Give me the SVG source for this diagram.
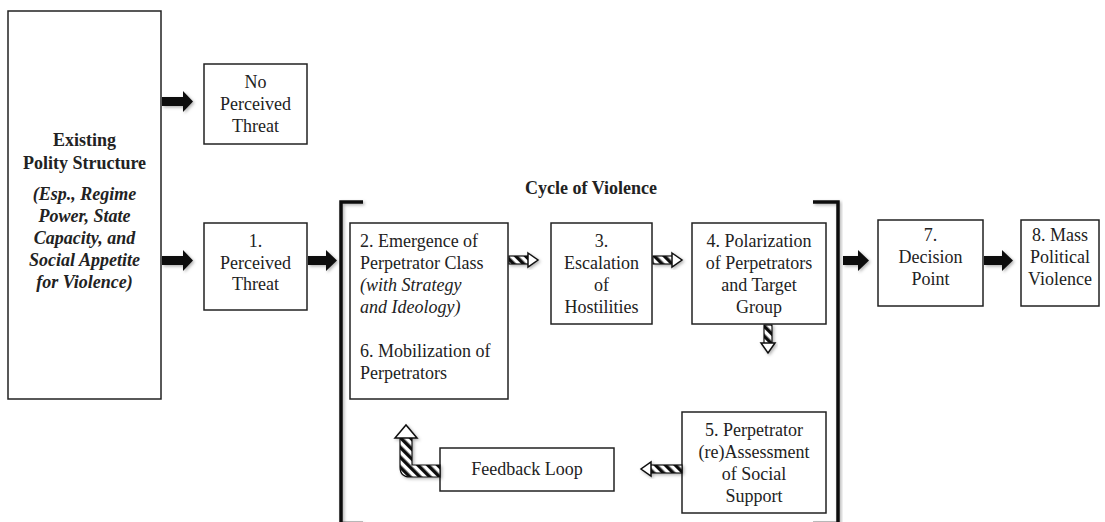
<svg xmlns="http://www.w3.org/2000/svg" width="1105" height="522" viewBox="0 0 1105 522">
  <defs>
    <pattern id="stripes" patternUnits="userSpaceOnUse" width="7" height="7" patternTransform="rotate(-45)">
      <rect width="7" height="7" fill="#fff"/>
      <rect width="3.5" height="7" fill="#111"/>
    </pattern>
    <filter id="shade" x="-20%" y="-20%" width="140%" height="140%">
      <feDropShadow dx="1.5" dy="1.5" stdDeviation="1.5" flood-color="#000" flood-opacity="0.3"/>
    </filter>
  </defs>
  <style>
    .box { fill: #fff; stroke: #222; stroke-width: 1.5; }
    text { font-family: 'Liberation Serif', 'DejaVu Serif', serif; font-size: 18px; fill: #222; }
    .c { text-anchor: middle; }
    .b { font-weight: bold; }
    .i { font-style: italic; }
    .solid { fill: #111; filter: url(#shade); }
    .shaft { fill: url(#stripes); stroke: #111; stroke-width: 1.2; }
    .head { fill: #fff; stroke: #111; stroke-width: 1.5; stroke-linejoin: miter; }
    .bracket { fill: none; stroke: #111; stroke-width: 3.5; filter: url(#shade); }
  </style>

  <!-- Cycle of Violence bracket -->
  <g id="cycle">
    <text class="c b" x="591" y="194">Cycle of Violence</text>
    <path class="bracket" d="M363,202 L341,202 L341,523.5 L363,523.5"/>
    <path class="bracket" d="M813,202 L838,202 L838,523.5 L813,523.5"/>
  </g>

  <g id="polity">
    <rect class="box" x="8" y="11" width="153" height="388"/>
    <text class="c b" x="84.5" y="146">Existing</text>
    <text class="c b" x="84.5" y="169">Polity Structure</text>
    <text class="c b i" x="84.5" y="200">(Esp., Regime</text>
    <text class="c b i" x="84.5" y="222">Power, State</text>
    <text class="c b i" x="84.5" y="244">Capacity, and</text>
    <text class="c b i" x="84.5" y="266">Social Appetite</text>
    <text class="c b i" x="84.5" y="288">for Violence)</text>
  </g>

  <g id="no-threat">
    <rect class="box" x="204" y="64" width="103" height="80"/>
    <text class="c" x="255.5" y="88">No</text>
    <text class="c" x="255.5" y="110">Perceived</text>
    <text class="c" x="255.5" y="132">Threat</text>
  </g>

  <g id="n1">
    <rect class="box" x="204" y="223" width="103" height="87"/>
    <text class="c" x="255.5" y="247">1.</text>
    <text class="c" x="255.5" y="269">Perceived</text>
    <text class="c" x="255.5" y="290">Threat</text>
  </g>

  <g id="n2">
    <rect class="box" x="350" y="223" width="158" height="176"/>
    <text x="360" y="247">2. Emergence of</text>
    <text x="360" y="269">Perpetrator Class</text>
    <text class="i" x="360" y="291">(with Strategy</text>
    <text class="i" x="360" y="313">and Ideology)</text>
    <text x="360" y="357">6. Mobilization of</text>
    <text x="360" y="379">Perpetrators</text>
  </g>

  <g id="n3">
    <rect class="box" x="551" y="223" width="101" height="101"/>
    <text class="c" x="601.5" y="247">3.</text>
    <text class="c" x="601.5" y="269">Escalation</text>
    <text class="c" x="601.5" y="291">of</text>
    <text class="c" x="601.5" y="313">Hostilities</text>
  </g>

  <g id="n4">
    <rect class="box" x="692" y="223" width="134" height="101"/>
    <text class="c" x="759" y="247">4. Polarization</text>
    <text class="c" x="759" y="269">of Perpetrators</text>
    <text class="c" x="759" y="291">and Target</text>
    <text class="c" x="759" y="313">Group</text>
  </g>

  <g id="n5">
    <rect class="box" x="682" y="412" width="144" height="101"/>
    <text class="c" x="754" y="436">5. Perpetrator</text>
    <text class="c" x="754" y="458">(re)Assessment</text>
    <text class="c" x="754" y="480">of Social</text>
    <text class="c" x="754" y="502">Support</text>
  </g>

  <g id="feedback">
    <rect class="box" x="440" y="448" width="174" height="43"/>
    <text class="c" x="527" y="475">Feedback Loop</text>
  </g>

  <g id="n7">
    <rect class="box" x="878" y="220" width="105" height="86"/>
    <text class="c" x="930.5" y="241">7.</text>
    <text class="c" x="930.5" y="263">Decision</text>
    <text class="c" x="930.5" y="285">Point</text>
  </g>

  <g id="n8">
    <rect class="box" x="1021" y="220" width="78" height="86"/>
    <text class="c" x="1060" y="241">8. Mass</text>
    <text class="c" x="1060" y="263">Political</text>
    <text class="c" x="1060" y="285">Violence</text>
  </g>

  <g id="connectors">
    <!-- solid block arrows -->
    <polygon class="solid" points="162,97 183,97 183,91 193,101.5 183,112 183,106 162,106"/>
    <polygon class="solid" points="162,256 183,256 183,250 193,260.5 183,271 183,265 162,265"/>
    <polygon class="solid" points="308,256 326,256 326,250 337,260.5 326,271 326,265 308,265"/>
    <polygon class="solid" points="843,256 858,256 858,250 869,260.5 858,271 858,265 843,265"/>
    <polygon class="solid" points="984,256 1002,256 1002,250 1013,260.5 1002,271 1002,265 984,265"/>

    <!-- striped arrows: 2 to 3 -->
    <g filter="url(#shade)">
      <rect class="shaft" x="509" y="256" width="20" height="8"/>
      <polygon class="head" points="528,253 538,260 528,267"/>
    </g>
    <!-- 3 to 4 -->
    <g filter="url(#shade)">
      <rect class="shaft" x="653" y="256" width="20" height="8"/>
      <polygon class="head" points="672,253 682,260 672,267"/>
    </g>
    <!-- 4 down -->
    <g filter="url(#shade)">
      <rect class="shaft" x="764" y="325" width="8" height="19"/>
      <polygon class="head" points="761,343 775,343 768,353"/>
    </g>
    <!-- 5 to feedback -->
    <g filter="url(#shade)">
      <rect class="shaft" x="650" y="465" width="32" height="8"/>
      <polygon class="head" points="651,462 651,476 641,469"/>
    </g>
    <!-- feedback loop elbow up to 6 -->
    <g filter="url(#shade)">
      <path class="shaft" d="M440,465 L412,465 L412,437 L400,437 L400,467 Q400,477 410,477 L440,477 Z"/>
      <polygon class="head" points="395,438 417,438 406,425"/>
    </g>
  </g>
</svg>
